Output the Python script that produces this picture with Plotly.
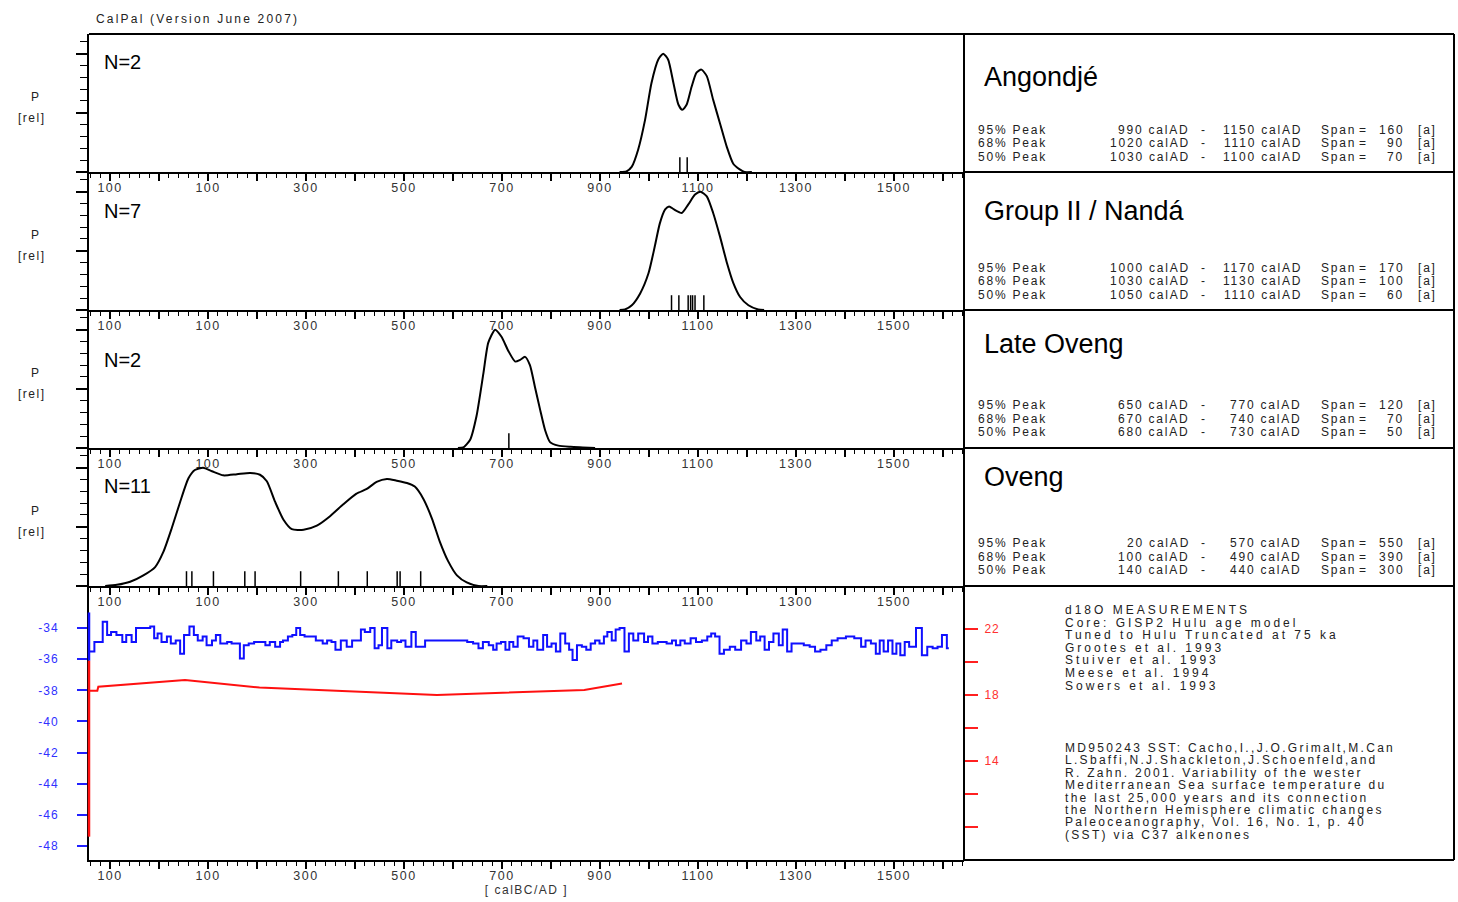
import plotly.graph_objects as go

W, H = 1458, 902

# ---------------- data ----------------
panel_names = ["Angondjé", "Group II / Nandá", "Late Oveng", "Oveng"]
panel_n = ["N=2", "N=7", "N=2", "N=11"]

ang_year = [940, 954, 965, 978, 992, 1005, 1019, 1029, 1039, 1050, 1060, 1068, 1077, 1087,
            1097, 1107, 1118, 1131, 1145, 1159, 1172, 1186, 1195, 1210]
ang_p = [0, 0.005, 0.045, 0.19, 0.44, 0.75, 0.95, 1.0, 0.95, 0.75, 0.57, 0.525, 0.57, 0.72,
         0.84, 0.865, 0.81, 0.61, 0.41, 0.21, 0.07, 0.02, 0.0, 0]

grp_year = [940, 951, 965, 982, 999, 1012, 1022, 1033, 1041, 1051, 1067, 1080, 1094, 1105,
            1118, 1131, 1145, 1159, 1172, 1186, 1203, 1223, 1235]
grp_p = [0, 0.005, 0.04, 0.14, 0.31, 0.54, 0.73, 0.85, 0.875, 0.85, 0.82, 0.89, 0.975, 1.0,
         0.96, 0.82, 0.62, 0.40, 0.23, 0.11, 0.04, 0.005, 0]

late_year = [610, 621, 635, 648, 662, 672, 686, 699, 713, 727, 737, 747, 757, 767, 778, 788,
             798, 815, 840, 865, 890]
late_p = [0, 0.005, 0.07, 0.27, 0.63, 0.89, 1.0, 0.94, 0.82, 0.73, 0.745, 0.77, 0.70, 0.52,
          0.32, 0.15, 0.05, 0.02, 0.01, 0.005, 0]

ov_year = [-110, -86, -59, -32, -8, 9, 26, 43, 60, 73, 90, 108, 131, 159, 186, 206, 220, 237,
           254, 271, 295, 322, 349, 376, 403, 424, 444, 465, 485, 506, 522, 539, 557, 573, 590,
           608, 628, 652, 670]
ov_p = [0, 0.01, 0.036, 0.09, 0.16, 0.29, 0.49, 0.71, 0.91, 0.98, 1.0, 0.97, 0.935, 0.945,
        0.955, 0.94, 0.885, 0.71, 0.56, 0.48, 0.475, 0.51, 0.59, 0.69, 0.78, 0.82, 0.88, 0.905,
        0.89, 0.87, 0.84, 0.74, 0.57, 0.375, 0.21, 0.09, 0.03, 0.0, 0]

ang_dates = [1063, 1078]
grp_dates = [1046, 1061, 1080, 1085, 1089, 1094, 1112]
late_dates = [714]
ov_dates = [56, 67, 111, 175, 196, 289, 366, 425, 486, 492, 534]

pct_labels = ["95% Peak", "68% Peak", "50% Peak"]
ang_from = [990, 1020, 1030]
ang_to = [1150, 1110, 1100]
ang_span = [160, 90, 70]
grp_from = [1000, 1030, 1050]
grp_to = [1170, 1130, 1110]
grp_span = [170, 100, 60]
late_from = [650, 670, 680]
late_to = [770, 740, 730]
late_span = [120, 70, 50]
ov_from = [20, 100, 140]
ov_to = [570, 490, 440]
ov_span = [550, 390, 300]

# d18O GISP2 (step series), years = step starts, last entry = end of last step
d18o_year = [-143, -132, -115, -106, -98, -87, -75, -67, -56, -47,
             -18, -10, -3, 5, 16, 24, 34, 43, 51, 62,
             71, 79, 89, 97, 108, 116, 125, 139, 148, 165,
             173, 183, 194, 217, 226, 237, 247, 253, 263, 272,
             280, 288, 297, 320, 334, 343, 352, 360, 371, 383,
             394, 412, 420, 431, 440, 448, 455, 466, 474, 486,
             494, 503, 515, 524, 543, 629, 641, 652, 661, 673,
             682, 689, 698, 707, 715, 723, 732, 744, 755, 764,
             772, 784, 792, 801, 810, 819, 829, 837, 844, 853,
             863, 872, 881, 890, 899, 908, 915, 924, 932, 940,
             950, 959, 968, 978, 990, 998, 1007, 1018, 1036, 1047,
             1055, 1064, 1073, 1085, 1096, 1108, 1119, 1127, 1135, 1144,
             1153, 1165, 1176, 1188, 1199, 1208, 1219, 1227, 1236, 1245,
             1254, 1265, 1273, 1282, 1291, 1316, 1328, 1339, 1350, 1362,
             1373, 1385, 1402, 1419, 1433, 1442, 1453, 1463, 1471, 1479,
             1488, 1497, 1505, 1513, 1522, 1531, 1545, 1557, 1568, 1579,
             1589, 1598, 1608, 1612]
d18o_val = [-35.5, -34.9, -33.6, -34.45, -34.25, -34.45, -34.9, -34.45, -34.9, -34.0,
            -33.9, -34.65, -34.35, -34.9, -34.55, -35.0, -34.8, -35.65, -34.45, -33.9,
            -34.45, -34.8, -34.55, -35.1, -34.8, -34.45, -35.0, -34.9, -35.0, -35.95,
            -35.1, -35.0, -34.9, -35.1, -34.9, -35.2, -34.9, -34.8, -34.55, -34.45,
            -34.0, -34.45, -34.55, -34.8, -35.0, -34.8, -34.9, -35.4, -34.8, -35.2,
            -34.8, -34.1, -34.25, -34.0, -35.3, -35.1, -34.0, -35.3, -34.8, -34.9,
            -34.8, -35.2, -34.25, -35.2, -34.8, -34.9, -35.0, -35.3, -34.9, -35.1,
            -35.4, -35.0, -34.9, -35.4, -34.9, -35.2, -34.55, -34.65, -35.2, -34.8,
            -35.4, -34.45, -35.2, -35.0, -35.5, -34.35, -35.0, -35.4, -36.05, -35.1,
            -35.2, -35.4, -35.0, -34.8, -35.0, -34.55, -34.25, -34.8, -34.1, -34.0,
            -35.5, -34.35, -34.8, -34.35, -34.9, -34.55, -35.0, -34.9, -35.0, -34.8,
            -35.1, -34.8, -35.0, -34.65, -34.9, -34.8, -34.55, -34.35, -34.55, -35.65,
            -35.4, -35.2, -35.4, -34.8, -35.0, -34.25, -34.8, -34.55, -35.4, -34.9,
            -34.35, -35.1, -34.1, -35.5, -35.0, -35.1, -35.2, -35.5, -35.4, -35.1,
            -34.8, -34.65, -34.55, -34.65, -35.2, -34.8, -35.0, -35.65, -34.8, -35.5,
            -34.8, -35.65, -35.0, -35.75, -34.9, -35.2, -34.0, -35.75, -35.2, -35.3,
            -35.2, -34.45, -35.3]

sst_year = [-143, -126, -124, 53, 205, 567, 868, 945]
sst_val = [18.25, 18.25, 18.5, 18.9, 18.45, 18.0, 18.3, 18.7]

d18o_ticks = [-48, -46, -44, -42, -40, -38, -36, -34]
sst_ticks = [10, 12, 14, 16, 18, 20, 22]
sst_labels = ["", "", "14", "", "18", "", "22"]

x_major = list(range(-100, 1601, 100))
x_labelled = {-100: "100", 100: "100", 300: "300", 500: "500", 700: "700", 900: "900",
              1100: "1100", 1300: "1300", 1500: "1500"}

ref_d18o = ["d18O MEASUREMENTS", "Core: GISP2 Hulu age model", "Tuned to Hulu Truncated at 75 ka",
            "Grootes et al. 1993", "Stuiver et al. 1993", "Meese et al. 1994", "Sowers et al. 1993"]
ref_sst = ["MD950243 SST: Cacho,I.,J.O.Grimalt,M.Can", "L.Sbaffi,N.J.Shackleton,J.Schoenfeld,and",
           "R. Zahn. 2001. Variability of the wester", "Mediterranean Sea surface temperature du",
           "the last 25,000 years and its connection", "the Northern Hemisphere climatic changes",
           "Paleoceanography, Vol. 16, No. 1, p. 40", "(SST) via C37 alkenones"]

# ---------------- layout geometry ----------------
X0, X1, XR = 89, 964, 1454
TOPS = [34, 172, 310, 448, 586]
BOT = 860
XRANGE = [-143, 1643]
FONT = "Liberation Sans, Arial, sans-serif"
N_Y = [62, 211, 360, 486]
TITLE_Y = [77, 211, 344, 477]
ROW_Y = [130, 268, 405, 543]


def px(x):
    return x / W


def py(y):
    return 1 - y / H


def sp(t, s):
    return f'<span style="letter-spacing:{s}px">{t}</span>'


fig = go.Figure()
curves = [(ang_year, ang_p, ang_dates), (grp_year, grp_p, grp_dates),
          (late_year, late_p, late_dates), (ov_year, ov_p, ov_dates)]

ticktext = [sp(x_labelled.get(v, ""), 1.5) for v in x_major]

layout_axes = {}
for i in range(5):
    top = TOPS[i]
    bot = TOPS[i + 1] if i < 4 else BOT
    k = i + 1
    xa = "xaxis" if k == 1 else f"xaxis{k}"
    ya = "yaxis" if k == 1 else f"yaxis{k}"
    xr = "x" if k == 1 else f"x{k}"
    yr = "y" if k == 1 else f"y{k}"
    layout_axes[xa] = dict(domain=[px(X0), px(X1)], anchor=yr, range=XRANGE,
                           showgrid=False, zeroline=False, showline=True, linecolor="black",
                           linewidth=2, ticks="outside", tickcolor="black", ticklen=7, tickwidth=1.5,
                           tickmode="array", tickvals=x_major, ticktext=ticktext,
                           ticklabelstandoff=-4,
                           tickfont=dict(family=FONT, size=12.5, color="#333"),
                           minor=dict(dtick=20, tick0=0, ticklen=4, tickcolor="black", tickwidth=1.2,
                                      ticks="outside"))
    if i < 4:
        layout_axes[ya] = dict(domain=[py(bot), py(top)], anchor=xr, range=[0, 1.166],
                               showgrid=False, zeroline=False, showline=True, linecolor="black",
                               linewidth=2, ticks="outside", tickcolor="black", ticklen=11,
                               tickwidth=1.5, tickvals=[0, 0.5, 1.0], showticklabels=False,
                               minor=dict(dtick=0.1, tick0=0, ticklen=7, tickcolor="black",
                                          tickwidth=1.2, ticks="outside"))
        yy, pp, dd = curves[i]
        fig.add_trace(go.Scatter(x=yy, y=pp, mode="lines", xaxis=xr, yaxis=yr,
                                 line=dict(color="black", width=2, shape="spline", smoothing=0.6),
                                 showlegend=False, hoverinfo="skip"))
        dx, dy = [], []
        for d in dd:
            dx += [d, d, None]
            dy += [0, 0.125, None]
        fig.add_trace(go.Scatter(x=dx, y=dy, mode="lines", xaxis=xr, yaxis=yr,
                                 line=dict(color="black", width=1.5), showlegend=False,
                                 hoverinfo="skip"))
    else:
        layout_axes[xa]["title"] = dict(text=sp("[ calBC/AD ]", 1.5),
                                        font=dict(family=FONT, size=12, color="#333"), standoff=0)
        layout_axes[ya] = dict(domain=[py(bot), py(top)], anchor=xr, range=[-48.9, -31.3],
                               showgrid=False, zeroline=False, showline=True, linecolor="black",
                               linewidth=2, ticks="outside", tickcolor="#2020ff", ticklen=10,
                               tickwidth=2, tickvals=d18o_ticks,
                               ticktext=[sp(str(v), 1) for v in d18o_ticks],
                               tickfont=dict(family=FONT, size=12, color="#3030ff"),
                               ticklabelstandoff=16)
        layout_axes["yaxis6"] = dict(domain=[py(bot), py(top)], anchor=xr, overlaying=yr,
                                     side="right", range=[8.0, 24.6], showgrid=False,
                                     zeroline=False, showline=False, ticks="outside",
                                     tickcolor="#ff2020", ticklen=13, tickwidth=2,
                                     tickmode="array", tickvals=sst_ticks,
                                     ticktext=[sp(t, 1) for t in sst_labels],
                                     tickfont=dict(family=FONT, size=12, color="#ff3030"),
                                     ticklabelstandoff=4)
        fig.add_trace(go.Scatter(x=d18o_year, y=d18o_val + [d18o_val[-1]], mode="lines",
                                 xaxis=xr, yaxis=yr, line=dict(color="#1010ff", width=2, shape="hv"),
                                 showlegend=False, hoverinfo="skip"))
        fig.add_trace(go.Scatter(x=sst_year, y=sst_val, mode="lines", xaxis=xr, yaxis="y6",
                                 line=dict(color="#ff1010", width=2), showlegend=False,
                                 hoverinfo="skip"))

shapes = []
# frame lines
shapes.append(dict(type="line", xref="paper", yref="paper", x0=px(X0), x1=px(XR), y0=py(TOPS[0]),
                   y1=py(TOPS[0]), line=dict(color="black", width=2)))
for t in TOPS[1:] + [BOT]:
    shapes.append(dict(type="line", xref="paper", yref="paper", x0=px(X1), x1=px(XR), y0=py(t),
                       y1=py(t), line=dict(color="black", width=2)))
for xv in (X1, XR):
    shapes.append(dict(type="line", xref="paper", yref="paper", x0=px(xv), x1=px(xv),
                       y0=py(TOPS[0]), y1=py(BOT), line=dict(color="black", width=2)))
# coloured data-range markers on the left axis of the climate panel
shapes.append(dict(type="line", xref="paper", yref="y5", x0=px(X0), x1=px(X0), y0=-33.0, y1=-36.1,
                   line=dict(color="#1010ff", width=2.5)))
shapes.append(dict(type="line", xref="paper", yref="y5", x0=px(X0), x1=px(X0), y0=-36.1, y1=-47.4,
                   line=dict(color="#ff1010", width=2.5)))

ann = []


def add(x, y, text, size=12, color="black", xanchor="left"):
    ann.append(dict(x=px(x), y=py(y), xref="paper", yref="paper", text=text, showarrow=False,
                    xanchor=xanchor, yanchor="middle", font=dict(family=FONT, size=size, color=color)))


add(94, 19, sp("CalPal (Version June 2007)", 2.2), 12, "#222")
stats = [(ang_from, ang_to, ang_span), (grp_from, grp_to, grp_span),
         (late_from, late_to, late_span), (ov_from, ov_to, ov_span)]
for i in range(4):
    T = TOPS[i]
    add(35, T + 63, sp("P", 1), 12, "#222", "center")
    add(32, T + 84, sp("[rel]", 1.5), 12, "#222", "center")
    add(102, N_Y[i], panel_n[i], 20, "black")
    add(982, TITLE_Y[i], panel_names[i], 27, "black")
    fr, to, spn = stats[i]
    for r in range(3):
        yy = ROW_Y[i] + 13.5 * r
        add(976, yy, sp(pct_labels[r], 1.8), 12, "#222")
        add(1192, yy, sp(f"{fr[r]} calAD", 1.8), 12, "#222", "right")
        add(1203, yy, "-", 12, "#222", "center")
        add(1304, yy, sp(f"{to[r]} calAD", 1.8), 12, "#222", "right")
        add(1319, yy, sp("Span", 1.8), 12, "#222")
        add(1362, yy, "=", 12, "#222", "center")
        add(1406, yy, sp(str(spn[r]), 1.8), 12, "#222", "right")
        add(1416, yy, sp("[a]", 1.8), 12, "#222")

for j, line in enumerate(ref_d18o):
    add(1063, 610 + 12.6 * j, sp(line, 3.0), 12, "#222")
for j, line in enumerate(ref_sst):
    add(1063, 748 + 12.4 * j, sp(line, 2.3), 12, "#222")

fig.update_layout(width=W, height=H, margin=dict(l=0, r=0, t=0, b=0), paper_bgcolor="white",
                  plot_bgcolor="white", showlegend=False, shapes=shapes, annotations=ann,
                  **layout_axes)

fig.write_html("out.html", config={"displayModeBar": False},
               post_script="document.body.style.margin='0';document.body.style.overflow='hidden';")
